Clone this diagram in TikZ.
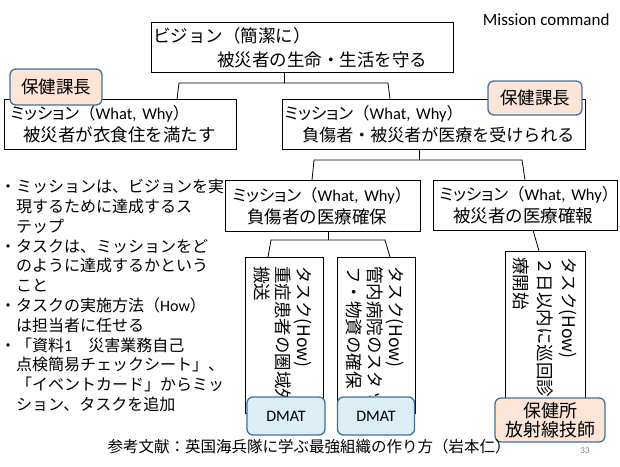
\documentclass[tikz,border=0pt]{standalone}
\usepackage{fontspec}
\setmainfont{Noto Sans CJK JP}
\newfontfamily\latinfont{Carlito}
\newfontfamily\pfont[RawFeature=+palt]{Noto Sans CJK JP}
\newfontfamily\vfont[Vertical=RotatedGlyphs]{Noto Sans CJK JP}
\usetikzlibrary{positioning}

\definecolor{peach}{HTML}{FCE4D6}
\definecolor{paleblue}{HTML}{DAEEF3}
\definecolor{badgeline}{HTML}{41719C}

\newcommand{\misline}{\mbox{\fontsize{16.5}{22}\selectfont{\pfont ミッション}（{\latinfont What, Why}）}}
\newcommand{\tightlines}{\lineskiplimit=-100pt\relax}

\tikzset{
  box/.style={draw, line width=0.9pt, anchor=north west, align=left, inner xsep=2pt, inner ysep=0pt},
  badge/.style={draw=badgeline, line width=1.3pt, rounded corners=6pt, fill=peach, align=center, inner sep=0pt},
  dmat/.style={badge, fill=paleblue, font=\latinfont\fontsize{16}{18}\selectfont},
  link/.style={line width=0.8pt},
  vtext/.style={rotate=-90, anchor=north west, align=left, inner sep=0pt},
}

\begin{document}
\begin{tikzpicture}[x=1pt, y=-1pt]
\useasboundingbox (0,0) rectangle (620,466);

\node[anchor=base east, font=\latinfont\fontsize{17}{20}\selectfont] (mc) at (613,25) {Mission command};

% vision and missions
\node[box, text width=298pt, minimum height=50pt, font=\fontsize{17.5}{24}\selectfont] (vision) at (151,22)
  {ビジョン（簡潔に）\\\hspace*{64pt}被災者の生命・生活を守る};
\node[box, text width=228pt, minimum height=50pt, font=\fontsize{17.5}{22}\selectfont] (lm) at (4,99)
  {\hspace*{4pt}\misline\\\hspace*{17pt}被災者が衣食住を満たす};
\node[box, text width=299pt, minimum height=50pt, font=\fontsize{17}{22}\selectfont] (rm) at (282,99)
  {\misline\\\hspace*{18pt}負傷者・被災者が医療を受けられる};
\node[box, text width=191pt, minimum height=51pt, font=\fontsize{17.5}{22}\selectfont] (ml) at (225,180)
  {\hspace*{5pt}\misline\\\hspace*{20pt}負傷者の医療確保};
\node[box, text width=180pt, minimum height=50pt, font=\fontsize{17.5}{22}\selectfont] (mr) at (433,180)
  {\hspace*{4pt}\misline\\\hspace*{18pt}被災者の医療確報};

% tasks
\node[box, minimum width=78pt, minimum height=156pt] (t1) at (245,257) {};
\node[box, minimum width=78pt, minimum height=156pt] (t2) at (337,257) {};
\node[box, minimum width=80pt, minimum height=160pt] (t3) at (505,251) {};

\node[vtext, font=\vfont\fontsize{17.5}{21}\selectfont\tightlines] (t1text) at (312,266)
  {タスク(How)\\重症患者の圏域外\\搬送};
\node[vtext, font=\vfont\fontsize{17.5}{21}\selectfont\tightlines] (t2text) at (404,266)
  {タスク(How)\\管内病院のスタッ\\フ・物資の確保};
\node[vtext, font=\vfont\fontsize{17.5}{24}\selectfont\tightlines] (t3text) at (577,257)
  {タスク(How)\\２日以内に巡回診\\療開始};

% connectors
\coordinate (v1) at (284,83);
\coordinate (v1l) at (179,83);
\coordinate (v1r) at (388,83);
\coordinate (lmin) at (177,99);
\coordinate (rmin) at (390,99);
\draw[link] (vision.south -| v1) -- (v1);
\draw[link] (lmin) -- (v1l) -- (v1r) -- (rmin);

\coordinate (r1) at (419,160);
\coordinate (r1l) at (314,160);
\coordinate (r1r) at (522,160);
\coordinate (mlin) at (312,180);
\coordinate (mrin) at (525,180);
\draw[link] (rm.south -| r1) -- (r1);
\draw[link] (mlin) -- (r1l) -- (r1r) -- (mrin);

\coordinate (m1) at (328,240);
\coordinate (m1l) at (271,240);
\coordinate (m1r) at (385,240);
\coordinate (t1in) at (268,257);
\coordinate (t2in) at (390,257);
\draw[link] (ml.south -| m1) -- (m1);
\draw[link] (t1in) -- (m1l) -- (m1r) -- (t2in);

\coordinate (m2) at (533,230);
\coordinate (t3in) at (539,251);
\draw[link] (m2) -- (t3in);

% badges
\node[badge, minimum width=92pt, minimum height=36pt, font=\fontsize{17.5}{20}\selectfont] (b1) at (56,87) {保健課長};
\node[badge, minimum width=94pt, minimum height=34pt, font=\fontsize{17.5}{20}\selectfont] (b2) at (535,98) {保健課長};
\node[dmat, minimum width=78pt, minimum height=38pt] (d1) at (286,416) {DMAT};
\node[dmat, minimum width=77pt, minimum height=38pt] (d2) at (376,416) {DMAT};
\node[badge, minimum width=110pt, minimum height=44pt, font=\fontsize{18}{19}\selectfont] (b3) at (550,420) {保健所\\放射線技師};

% notes
\node[anchor=north west, align=left, inner sep=0pt, font=\fontsize{16}{19.8}\selectfont] (notes) at (0,179)
  {・ミッションは、ビジョンを実\\
   \hspace*{16pt}現するために達成するス\\
   \hspace*{16pt}テップ\\
   ・タスクは、ミッションをど\\
   \hspace*{16pt}のように達成するかという\\
   \hspace*{16pt}こと\\
   ・タスクの実施方法（{\latinfont How}）\\
   \hspace*{16pt}は担当者に任せる\\
   ・「資料{\latinfont 1}　災害業務自己\\
   \hspace*{16pt}点検簡易チェックシート」、\\
   \hspace*{16pt}「イベントカード」からミッ\\
   \hspace*{16pt}ション、タスクを追加};

\node[font=\fontsize{15.5}{18}\selectfont] (source) at (309,447) {参考文献：英国海兵隊に学ぶ最強組織の作り方（岩本仁）};
\node[font=\latinfont\fontsize{9}{10}\selectfont, text=gray] (page) at (585,451) {33};
\end{tikzpicture}
\end{document}
